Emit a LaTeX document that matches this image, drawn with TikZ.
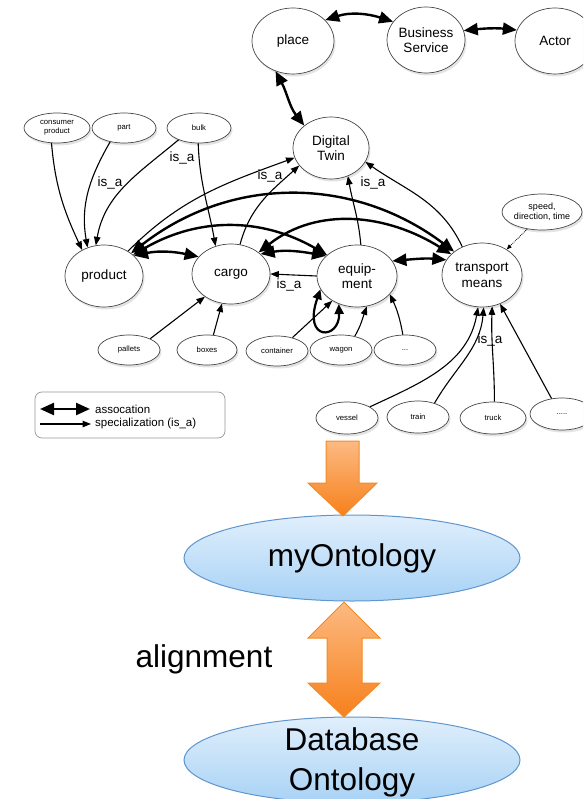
\documentclass[tikz,border=0pt]{standalone}
\usepackage{fontspec}
\setmainfont{Liberation Sans}
\usetikzlibrary{shapes.geometric,arrows.meta,shadows}

\definecolor{nodeline}{RGB}{70,70,70}
\definecolor{legendline}{RGB}{150,150,150}
\definecolor{orangetop}{RGB}{252,186,130}
\definecolor{orangebot}{RGB}{247,128,28}
\definecolor{orangeline}{RGB}{240,140,40}
\definecolor{blobtop}{RGB}{224,239,252}
\definecolor{blobbot}{RGB}{168,210,245}
\definecolor{blobline}{RGB}{95,150,205}

\tikzset{
  concept/.style={ellipse, draw=nodeline, line width=0.7pt, fill=white, inner sep=0pt,
    align=center, drop shadow={opacity=0.22, shadow xshift=1.5pt, shadow yshift=-2.5pt}},
  bignode/.style={concept, font=\fontsize{13.5}{15.5}\selectfont},
  smallnode/.style={concept, font=\fontsize{7.7}{9.2}\selectfont,
    minimum width=62pt, minimum height=30pt},
  assoc/.style={line width=2.4pt,
    {Triangle[length=14pt,width=12pt]}-{Triangle[length=14pt,width=12pt]}},
  isa/.style={line width=1.1pt, -{Triangle[length=8.5pt,width=6.5pt]}},
  hint/.style={line width=0.8pt, densely dotted, -{Triangle[length=5pt,width=4pt]}},
  isalabel/.style={font=\fontsize{13.5}{15}\selectfont, inner sep=0pt},
  ontology/.style={ellipse, draw=blobline, line width=1pt, top color=blobtop,
    bottom color=blobbot, inner sep=0pt, minimum width=336pt, minimum height=86pt,
    align=center, font=\fontsize{31.5}{40}\selectfont},
  bigarrow/.style={draw=orangeline, line width=1pt, top color=orangetop,
    bottom color=orangebot, line join=miter}
}

\begin{document}
\begin{tikzpicture}[x=1pt,y=1pt]
\useasboundingbox (0,0) rectangle (583,-799);
\clip (0,0) rectangle (583,-799);

% ---------- upper concept graph ----------
\node[bignode, minimum width=82pt, minimum height=66pt] (place) at (293,-41) {place};
\node[bignode, minimum width=78pt, minimum height=66pt] (bserv) at (426,-40) {Business\\Service};
\node[bignode, minimum width=80pt, minimum height=66pt] (actor) at (555,-41) {Actor};
\node[bignode, minimum width=76pt, minimum height=62pt] (dtwin) at (331,-148) {Digital\\Twin};

\node[smallnode, minimum width=66pt] (cprod) at (57,-128) {consumer\\product};
\node[smallnode, minimum width=64pt] (part) at (124,-128) {part};
\node[smallnode, minimum width=64pt] (bulk) at (199,-128) {bulk};

\node[bignode, minimum width=78pt, minimum height=62pt] (product) at (104,-276) {product};
\node[bignode, minimum width=78pt, minimum height=60pt] (cargo) at (231,-274) {cargo};
\node[bignode, minimum width=80pt, minimum height=62pt] (equip) at (357,-276) {equip-\\ment};
\node[bignode, minimum width=80pt, minimum height=64pt] (tmeans) at (482,-275) {transport\\means};

\node[concept, font=\fontsize{9}{10.5}\selectfont, minimum width=80pt, minimum height=36pt]
  (speed) at (542,-212) {speed,\\direction, time};

\node[smallnode] (pallets) at (129,-350) {pallets};
\node[smallnode, minimum width=60pt] (boxes) at (207,-350) {boxes};
\node[smallnode] (container) at (277,-351) {container};
\node[smallnode] (wagon) at (341,-350) {wagon};
\node[smallnode] (dotsa) at (405,-350) {...};

\node[smallnode, minimum height=32pt] (vessel) at (347,-418) {vessel};
\node[smallnode, minimum height=32pt] (train) at (418,-417) {train};
\node[smallnode, minimum width=66pt, minimum height=32pt] (truck) at (493,-418) {truck};
\node[smallnode, minimum width=64pt, minimum height=32pt] (dotsb) at (562,-414) {.....};

% associations
\draw[assoc] (place.33) to[out=18,in=162] (bserv.151);
\draw[assoc] (bserv.14) to[out=6,in=174] (actor.164);
\draw[assoc] (place.-120) to[out=-62,in=128] (dtwin.140);
\draw[assoc] (product.34) to[out=12,in=168] (cargo.152);
\draw[assoc] (cargo.34) to[out=10,in=170] (equip.147);
\draw[assoc] (equip.23) to[out=5,in=175] (tmeans.157);
\draw[assoc] (product.40) to[out=38,in=143] (tmeans.140);
\draw[assoc] (product.36) to[out=30,in=150] (equip.145);
\draw[assoc] (cargo.38) to[out=38,in=148] (tmeans.146);
\draw[line width=2.2pt, {Triangle[length=10pt,width=9pt]}-{Triangle[length=10pt,width=9pt]}]
  (equip.200) .. controls (302,-342) and (340,-340) .. (equip.237);

% specializations
\draw[isa] (cprod.-110) to[out=-85,in=115] (product.130);
\draw[isa] (part.-135) to[out=-120,in=100] (product.120);
\draw[isa] (bulk.-150) to[out=-140,in=80] (product.105);
\draw[isa] (bulk.-93) to[out=-88,in=100] (cargo.119);
\draw[isa] (product.46) to[out=45,in=200] (dtwin.195);
\draw[isa] (cargo.73) to[out=75,in=222] (dtwin.209);
\draw[isa] (equip.83) to[out=95,in=-80] (dtwin.-59);
\draw[isa] (tmeans.125) to[out=115,in=-35] (dtwin.-22);
\draw[isa] (equip.west) -- (cargo.east);
\draw[hint] (speed.-131) -- (tmeans.46);
\draw[isa] (pallets.28) -- (cargo.-139);
\draw[isa] (boxes.67) -- (cargo.-107);
\draw[isa] (container.41) -- (equip.-135);
\draw[isa] (wagon.45) to[out=60,in=-110] (equip.-72);
\draw[isa] (dotsa.98) to[out=100,in=-65] (equip.-29);
\draw[isa] (vessel.26) to[out=25,in=-100] (tmeans.-97);
\draw[isa] (train.40) to[out=60,in=-95] (tmeans.-87);
\draw[isa] (truck.85) to[out=90,in=-92] (tmeans.-72);
\draw[isa] (dotsb.124) -- (tmeans.-58);

% is_a labels
\node[isalabel] (l1) at (110,-183) {is\_a};
\node[isalabel] (l2) at (182,-158) {is\_a};
\node[isalabel] (l3) at (270,-176) {is\_a};
\node[isalabel] (l4) at (373,-183) {is\_a};
\node[isalabel] (l5) at (289,-285) {is\_a};
\node[isalabel] (l6) at (490,-340) {is\_a};

% legend
\node[draw=legendline, line width=0.7pt, rounded corners=7pt, minimum width=190pt,
  minimum height=46pt, inner sep=0pt] (legend) at (130,-415) {};
\coordinate (la) at (40,-409);
\coordinate (lb) at (90,-409);
\coordinate (lc) at (40,-424);
\coordinate (ld) at (91,-424);
\draw[assoc] (la) -- (lb);
\draw[isa] (lc) -- (ld);
\node[anchor=west, inner sep=0pt, font=\fontsize{11.5}{13}\selectfont] (lt1) at (95,-409) {assocation};
\node[anchor=west, inner sep=0pt, font=\fontsize{11.5}{13}\selectfont] (lt2) at (95,-424) {specialization (is\_a)};

% ---------- lower ontology alignment ----------
\node[ontology] (myonto) at (352,-558) {myOntology};
\node[ontology, text depth=0pt] (dbonto) at (352,-760) {};
\node[font=\fontsize{31.5}{40}\selectfont, align=center, inner sep=0pt] (dbtext) at (352,-762) {Database\\Ontology};

% down arrow into myOntology
\path[bigarrow] (326,-441) -- (359,-441) -- (359,-483) -- (377,-483) -- (343,-516)
  -- (308,-483) -- (326,-483) -- cycle;
% double arrow between the two ontologies
\path[bigarrow] (344,-602) -- (380,-638) -- (362,-638) -- (362,-683) -- (380,-683)
  -- (344,-717) -- (308,-683) -- (327,-683) -- (327,-638) -- (308,-638) -- cycle;

\node[font=\fontsize{31.5}{38}\selectfont, inner sep=0pt] (align) at (204,-659) {alignment};
\end{tikzpicture}
\end{document}
